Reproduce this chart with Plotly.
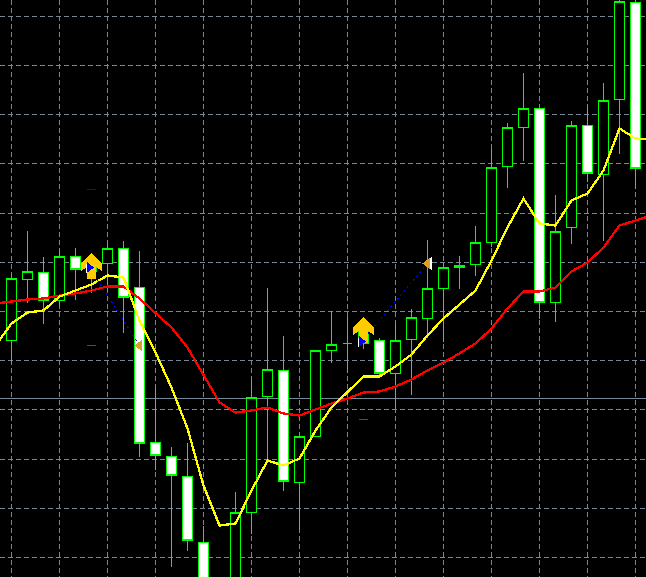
import plotly.graph_objects as go

# Bars, in chart price units
bars = list(range(40))
opens  = [337,398,405,377,421,406,414,429,390,235,221,201,135,85,87,165,281,307,195,241,327,334,334,337,304,338,359,389,410,413,435,511,550,569,375,450,552,503,578,675]
highs  = [404,447,421,428,430,422,434,437,427,290,231,235,152,90,186,299,390,342,241,328,367,361,357,340,354,369,438,415,422,452,529,555,605,569,483,557,571,595,682,682]
lows   = [315,375,354,371,378,385,387,345,221,208,111,127,77,70,77,144,217,187,148,241,315,305,329,300,270,283,340,336,389,402,431,490,517,359,356,434,496,437,524,489]
closes = [399,406,377,421,408,415,429,380,234,222,202,137,87,80,165,280,308,196,241,327,333,334,347,304,337,360,389,410,412,435,510,550,569,375,446,552,504,577,676,509]

line_x = list(range(-1, 41))
fast_ma = [332,354,365,367,381,387,393,402,400,357,325,290,249,192,152,154,187,217,212,219,247,270,285,301,301,311,323,342,359,373,387,417,450,479,454,452,477,484,507,549,539,538]
slow_ma = [374,376,378,379,382,384,387,391,391,379,364,350,330,302,275,265,267,270,264,262,268,274,279,285,286,291,298,307,315,324,334,349,369,386,386,390,406,415,430,452,457,462]

price_level = 279
buy_bars = [5, 22]
buy_tips = [424, 360]
entry_bars = [4.875, 21.875]
entry_prices = [410, 336]
exit_bars = [8, 26]
exit_prices = [332, 414]
high_marks = [488, 414]
low_marks = [332, 258]

GRID = "#778899"
LIME = "#00ff00"
PX = 1 / 16  # one screen pixel on the bar axis

fig = go.Figure()
fig.add_trace(go.Candlestick(
    x=bars, open=opens, high=highs, low=lows, close=closes, whiskerwidth=0,
    increasing=dict(line=dict(color=LIME, width=1), fillcolor="#000000"),
    decreasing=dict(line=dict(color=LIME, width=1), fillcolor="#ffffff"),
    hoverinfo="skip", showlegend=False))

fig.add_trace(go.Scatter(x=line_x, y=slow_ma, mode="lines", line=dict(color="#ff0000", width=2.3), showlegend=False))
fig.add_trace(go.Scatter(x=line_x, y=fast_ma, mode="lines", line=dict(color="#ffff00", width=2.3), showlegend=False))

for a, b, c, d in zip(entry_bars, entry_prices, exit_bars, exit_prices):
    fig.add_trace(go.Scatter(x=[a, c], y=[b, d], mode="lines",
                             line=dict(color="#0000ff", width=1, dash="2px,3px"), showlegend=False))

# Arrow glyph outline, in screen pixels relative to its tip
glyph_dx = [0, 10, 10, 4, 4, -4, -4, -10, -10, 0]
glyph_dy = [0, 10, 17, 12, 25, 25, 12, 17, 10, 0]
for bar, tip in zip(buy_bars, buy_tips):
    fig.add_trace(go.Scatter(x=[bar + d * PX for d in glyph_dx], y=[tip - d for d in glyph_dy],
                             mode="lines", fill="toself", fillcolor="#ffcc00",
                             line=dict(color="#ffcc00", width=1), showlegend=False))

# White edge first, glyph on top
fig.add_trace(go.Scatter(x=[v - 1.5 * PX for v in entry_bars], y=[v - 1 for v in entry_prices], mode="markers",
                         marker=dict(symbol="triangle-right", size=9, color="#ffffff"), showlegend=False))
fig.add_trace(go.Scatter(x=entry_bars, y=entry_prices, mode="markers",
                         marker=dict(symbol="triangle-right", size=9, color="#0000ff"), showlegend=False))
fig.add_trace(go.Scatter(x=[v + 1.5 * PX for v in exit_bars], y=exit_prices, mode="markers",
                         marker=dict(symbol="triangle-left", size=11, color="#ffffff"), showlegend=False))
fig.add_trace(go.Scatter(x=exit_bars, y=exit_prices, mode="markers",
                         marker=dict(symbol="triangle-left", size=10, color="#d9a02b"), showlegend=False))
fig.add_trace(go.Scatter(x=buy_bars, y=high_marks, mode="markers",
                         marker=dict(symbol="line-ew", size=7, line=dict(color="#0000ff", width=1)), showlegend=False))
fig.add_trace(go.Scatter(x=buy_bars, y=low_marks, mode="markers",
                         marker=dict(symbol="line-ew", size=7, line=dict(color="#ff0000", width=1)), showlegend=False))

fig.add_hline(y=price_level, line=dict(color=GRID, width=1), layer="below")

fig.update_layout(
    width=646, height=577, margin=dict(l=0, r=0, t=0, b=0),
    paper_bgcolor="#000000", plot_bgcolor="#000000", showlegend=False, hovermode=False,
    boxgap=0.18, dragmode=False,
    xaxis=dict(range=[-11.5 / 16, 634.5 / 16], tick0=0, dtick=3, showgrid=True, gridcolor=GRID, gridwidth=1,
               griddash="5px,3px", showticklabels=False, ticks="", zeroline=False, rangeslider=dict(visible=False)),
    yaxis=dict(range=[100.5, 677.5], tick0=120, dtick=49.2, showgrid=True, gridcolor=GRID, gridwidth=1,
               griddash="5px,3px", showticklabels=False, ticks="", zeroline=False),
)

fig.write_html("out.html", config=dict(displayModeBar=False),
               post_script="document.body.style.margin='0';document.body.style.background='#000';"
                           "var s=document.createElement('style');"
                           "s.textContent='.main-svg path{shape-rendering:crispEdges !important}';"
                           "document.head.appendChild(s);")
